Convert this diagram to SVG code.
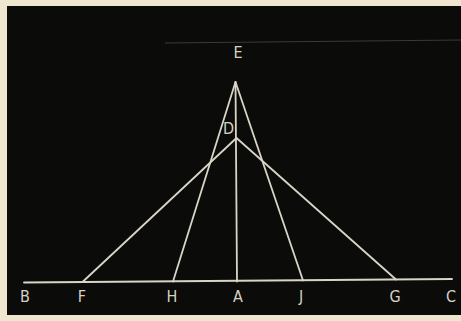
<svg xmlns="http://www.w3.org/2000/svg" width="461" height="321" viewBox="0 0 461 321">
<style>
.bg{fill:#efe6cf}
.board{fill:#0b0b09}
.ln{stroke:#d9d5c6;stroke-width:1.8;fill:none;stroke-linecap:round}
.lbl{fill:#d6d2c2;font-family:"DejaVu Sans Condensed","DejaVu Sans",sans-serif;font-size:16px;text-anchor:middle}
</style>
<rect class="bg" x="0" y="0" width="461" height="321"/>
<rect class="board" x="7" y="6" width="454" height="309"/>
<line x1="165" y1="43" x2="461" y2="40" stroke="#3a3a36" stroke-width="1"/>
<g id="connectors">
<line class="ln" x1="24" y1="282.5" x2="452" y2="279"/>
<line class="ln" x1="235.5" y1="82" x2="237" y2="281.5"/>
<line class="ln" x1="235.5" y1="82" x2="173" y2="281.5"/>
<line class="ln" x1="235.5" y1="82" x2="303" y2="280.5"/>
<line class="ln" x1="236.5" y1="138" x2="83" y2="281.5"/>
<line class="ln" x1="236.5" y1="138" x2="396" y2="279.5"/>
</g>
<g id="node-E"><text class="lbl" x="238" y="58">E</text></g>
<g id="node-D"><text class="lbl" x="228.5" y="134">D</text></g>
<g id="node-B"><text class="lbl" x="25" y="302">B</text></g>
<g id="node-F"><text class="lbl" x="82" y="302">F</text></g>
<g id="node-H"><text class="lbl" x="172" y="302">H</text></g>
<g id="node-A"><text class="lbl" x="238" y="302">A</text></g>
<g id="node-J"><text class="lbl" x="301" y="302">J</text></g>
<g id="node-G"><text class="lbl" x="395" y="302">G</text></g>
<g id="node-C"><text class="lbl" x="451" y="302">C</text></g>
</svg>
